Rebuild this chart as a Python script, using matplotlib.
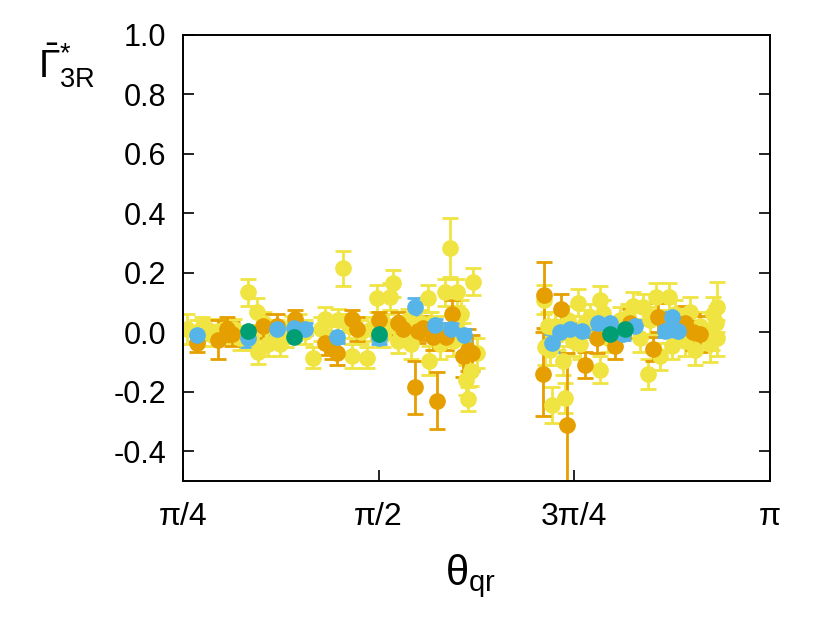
import numpy as np
import matplotlib
matplotlib.use("Agg")
import matplotlib.pyplot as plt

plt.rcParams['font.family'] = ['Liberation Sans', 'DejaVu Sans']
plt.rcParams['mathtext.fontset'] = 'custom'
plt.rcParams['mathtext.rm'] = 'Liberation Sans'
plt.rcParams['mathtext.it'] = 'Liberation Sans'
plt.rcParams['mathtext.bf'] = 'Liberation Sans'

# ---- data (theta in radians, value, error) ----
yellow_x = [0.801, 0.841, 0.882, 0.926, 0.962, 1.014, 1.046, 1.082, 1.086, 1.127,
            1.163, 1.175, 1.223, 1.275, 1.307, 1.340, 1.355, 1.408, 1.428, 1.464,
            1.500, 1.524, 1.564, 1.590, 1.616, 1.628, 1.648, 1.690, 1.700, 1.769,
            1.773, 1.780, 1.815, 1.837, 1.857, 1.885, 1.900, 1.909, 1.930, 1.940,
            1.950, 1.966, 1.920,
            0.860, 0.900, 0.990, 1.060, 1.110, 1.200, 1.250, 1.380, 1.450, 1.540,
            1.610, 1.660, 1.740, 1.800, 1.870,
            2.235, 2.240, 2.259, 2.267, 2.280, 2.311, 2.319, 2.330, 2.371, 2.380,
            2.420, 2.459, 2.459, 2.470, 2.520, 2.540, 2.592, 2.632, 2.652, 2.684,
            2.700, 2.736, 2.748, 2.780, 2.821, 2.841, 2.860, 2.901, 2.909, 2.913,
            2.929, 2.925, 2.930,
            2.250, 2.290, 2.350, 2.400, 2.490, 2.570, 2.620, 2.660, 2.760, 2.800]
yellow_y = [0.010, 0.000, 0.010, 0.005, 0.000, -0.020, 0.135, 0.070, -0.065, -0.040,
            0.000, -0.040, 0.020, 0.000, -0.085, 0.010, 0.045, 0.040, 0.215, -0.080,
            0.000, -0.085, 0.115, -0.010, 0.120, 0.165, -0.030, 0.040, -0.040, 0.115,
            -0.095, 0.030, -0.040, 0.135, 0.285, 0.135, 0.060, -0.020, -0.225, -0.130,
            0.170, -0.070, -0.160,
            0.015, -0.010, 0.010, -0.020, 0.030, -0.015, 0.020, -0.020, 0.020, 0.010,
            0.020, -0.005, 0.030, 0.010, -0.030,
            0.110, -0.050, -0.060, -0.245, 0.020, -0.095, -0.220, 0.040, 0.100, -0.040,
            0.050, 0.110, -0.125, 0.065, 0.000, 0.040, 0.090, 0.085, -0.140, 0.120,
            -0.080, 0.120, -0.045, 0.030, 0.070, -0.060, 0.020, -0.040, 0.000, 0.060,
            0.085, 0.030, -0.020,
            0.020, -0.010, -0.030, 0.030, -0.020, 0.050, -0.020, 0.040, 0.060, -0.030]
yellow_e = [0.050, 0.040, 0.035, 0.040, 0.035, 0.040, 0.045, 0.045, 0.040, 0.040,
            0.040, 0.040, 0.035, 0.040, 0.035, 0.040, 0.040, 0.040, 0.060, 0.040,
            0.040, 0.035, 0.045, 0.040, 0.045, 0.045, 0.040, 0.040, 0.050, 0.045,
            0.050, 0.040, 0.050, 0.045, 0.100, 0.045, 0.050, 0.050, 0.040, 0.050,
            0.045, 0.050, 0.050,
            0.035, 0.035, 0.035, 0.040, 0.040, 0.035, 0.040, 0.040, 0.040, 0.040,
            0.040, 0.040, 0.045, 0.045, 0.050,
            0.050, 0.060, 0.050, 0.060, 0.050, 0.050, 0.050, 0.050, 0.045, 0.050,
            0.045, 0.045, 0.045, 0.045, 0.050, 0.045, 0.045, 0.045, 0.050, 0.045,
            0.045, 0.045, 0.045, 0.050, 0.050, 0.050, 0.050, 0.060, 0.060, 0.060,
            0.085, 0.060, 0.060,
            0.050, 0.050, 0.050, 0.045, 0.045, 0.045, 0.045, 0.045, 0.050, 0.050]

orange_x = [0.841, 0.926, 0.962, 0.982, 1.106, 1.163, 1.235, 1.355, 1.384, 1.404,
            1.464, 1.484, 1.572, 1.648, 1.668, 1.717, 1.729, 1.749, 1.789, 1.805,
            1.841, 1.865, 1.909, 1.946, 1.930,
            2.235, 2.231, 2.303, 2.327, 2.399, 2.447, 2.520, 2.580, 2.672, 2.692,
            2.801, 2.833, 2.861]
orange_y = [-0.035, -0.025, 0.010, -0.005, 0.020, 0.020, 0.045, -0.035, -0.050, -0.070,
            0.045, 0.010, 0.040, 0.030, 0.010, -0.185, 0.005, 0.015, -0.015, -0.230,
            -0.015, 0.060, -0.080, -0.070, -0.060,
            0.125, -0.140, 0.080, -0.310, -0.110, -0.020, -0.045, 0.030, -0.055, 0.050,
            0.030, 0.000, -0.005]
orange_e = [0.030, 0.065, 0.040, 0.040, 0.040, 0.040, 0.030, 0.040, 0.040, 0.040,
            0.030, 0.040, 0.030, 0.040, 0.045, 0.090, 0.040, 0.040, 0.045, 0.095,
            0.045, 0.050, 0.070, 0.060, 0.070,
            0.110, 0.140, 0.050, 0.240, 0.045, 0.050, 0.045, 0.050, 0.040, 0.050,
            0.060, 0.060, 0.060]

blue_x = [0.841, 1.046, 1.163, 1.231, 1.275, 1.404, 1.572, 1.717, 1.797, 1.861, 1.913,
          2.267, 2.299, 2.339, 2.387, 2.451, 2.500, 2.552, 2.600, 2.720, 2.748, 2.772]
blue_y = [-0.010, -0.020, 0.010, 0.015, 0.010, -0.015, -0.020, 0.085, 0.025, 0.010, -0.010,
          -0.035, 0.000, 0.010, 0.005, 0.030, 0.030, -0.005, 0.020, 0.005, 0.050, 0.005]
blue_e = [0.020, 0.030, 0.020, 0.020, 0.020, 0.020, 0.020, 0.030, 0.020, 0.020, 0.020,
          0.030, 0.020, 0.020, 0.020, 0.020, 0.020, 0.020, 0.020, 0.020, 0.020, 0.020]

green_x = [1.046, 1.231, 1.572, 2.500, 2.560]
green_y = [0.005, -0.015, -0.005, -0.005, 0.010]
green_e = [0.010, 0.010, 0.010, 0.010, 0.010]

x_ticks = [np.pi / 4, np.pi / 2, 3 * np.pi / 4, np.pi]
x_ticklabels = ['π/4', 'π/2', '3π/4', 'π']
y_ticks = [-0.4, -0.2, 0.0, 0.2, 0.4, 0.6, 0.8, 1.0]
y_ticklabels = ['-0.4', '-0.2', '0.0', '0.2', '0.4', '0.6', '0.8', '1.0']

fig = plt.figure(figsize=(8.3, 6.25), dpi=100)
ax = fig.add_axes([0.2205, 0.2304, 0.7072, 0.7136])

series = [
    (yellow_x, yellow_y, yellow_e, '#f0e442'),
    (orange_x, orange_y, orange_e, '#e69f00'),
    (blue_x, blue_y, blue_e, '#56b4e9'),
    (green_x, green_y, green_e, '#009e73'),
]
for xs, ys, es, c in series:
    ax.errorbar(xs, ys, yerr=es, fmt='o', color=c, ecolor=c, markersize=11,
                markeredgecolor=c, elinewidth=2.0, capsize=6, capthick=2.0)

ax.set_xlim(np.pi / 4, np.pi)
ax.set_ylim(-0.5, 1.0)
ax.set_xticks(x_ticks)
ax.set_xticklabels(x_ticklabels)
ax.set_yticks(y_ticks)
ax.set_yticklabels(y_ticklabels)
ax.tick_params(direction='in', length=8, width=1.2, labelsize=22, pad=12,
               right=True, top=False, colors='black')
ax.tick_params(axis='x', labelsize=23, pad=15)
for s in ax.spines.values():
    s.set_linewidth(1.4)

fig.text(0.567, 0.078, r'$\theta_{\mathrm{qr}}$', fontsize=30, ha='center', va='center')
fig.text(0.08, 0.895, r'$\bar{\Gamma}^{*}_{3\mathrm{R}}$', fontsize=28, ha='center', va='center')

fig.savefig('out.png', dpi=100)
